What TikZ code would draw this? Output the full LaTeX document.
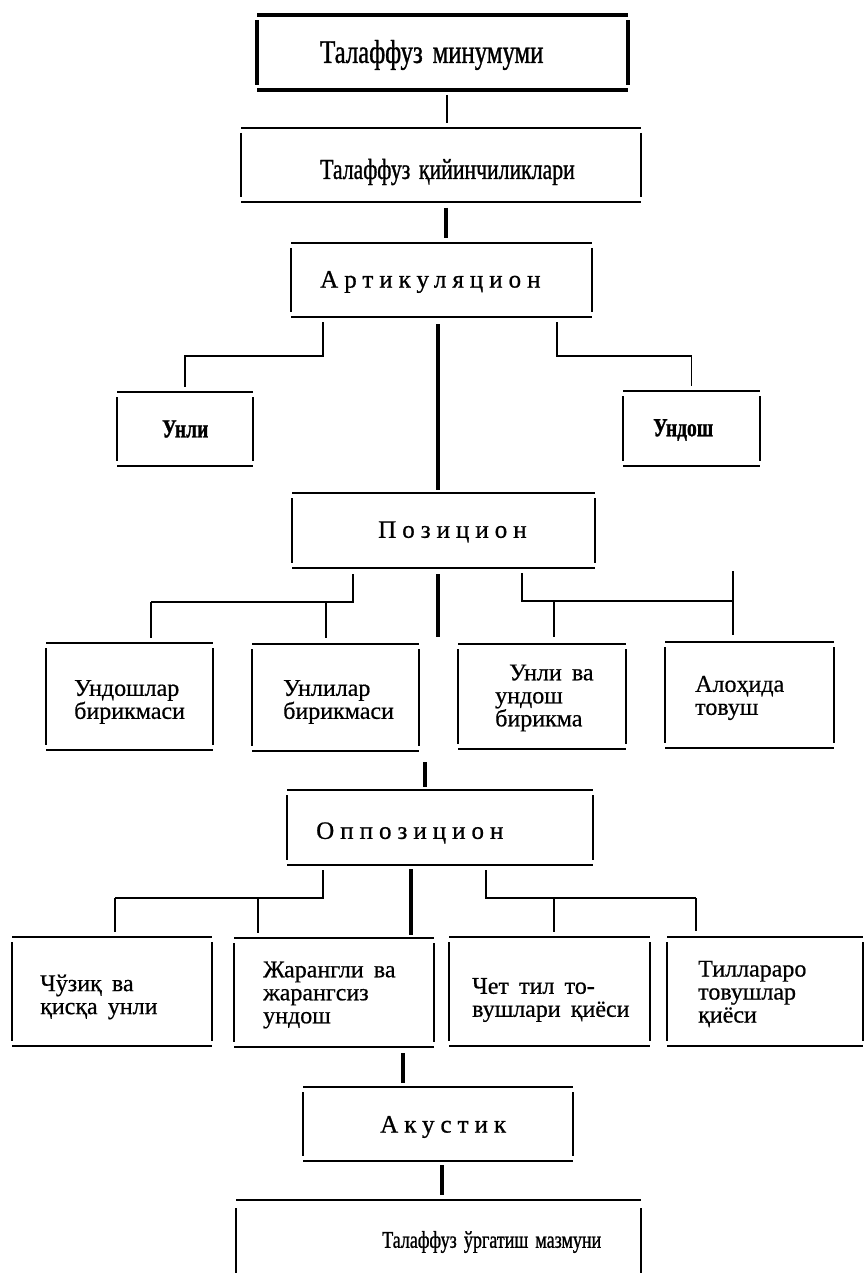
\documentclass[tikz,border=0pt]{standalone}
\usepackage{fontspec}
\setmainfont{Liberation Serif}[WordSpace=1.7, FakeBold=0.6]
\newfontfamily\spacedfont{Liberation Serif}[LetterSpace=24, FakeBold=0.8]
\newfontfamily\condfont{Liberation Serif}[FakeStretch=0.75, WordSpace=1.6, FakeBold=1]

% an empty frame node given its left, top, right and bottom edges
\newcommand{\mkbox}[5]{%
  \node[box, minimum width={(#4-#2)*1pt}, minimum height={(#5-#3)*1pt}]
    (#1) at ({(#2+#4)/2},{(#3+#5)/2}) {};}

% the four sides of a frame, the side strokes stopping short of the corners
\newcommand{\boxsides}[2][]{%
  \draw[edge,#1] (#2.north west) -- (#2.north east);
  \draw[edge,#1] (#2.south west) -- (#2.south east);
  \draw[edge,#1] ([yshift=-5pt]#2.north west) -- ([yshift=5pt]#2.south west);
  \draw[edge,#1] ([yshift=-5pt]#2.north east) -- ([yshift=5pt]#2.south east);}

\begin{document}
\begin{tikzpicture}[x=1pt,y=-1pt,
  box/.style={rectangle, draw=none, inner sep=0pt, outer sep=0pt},
  edge/.style={line width=1.8pt},
  heavy/.style={line width=4.8pt},
  link/.style={line width=1.5pt},
  bold link/.style={line width=4.2pt},
  lbl/.style={anchor=west, inner sep=0pt, align=left,
    font=\fontsize{24}{23}\selectfont},
  heading/.style={anchor=west, inner sep=0pt,
    font=\fontsize{29}{29}\condfont},
  title/.style={anchor=west, inner sep=0pt,
    font=\fontsize{25}{25}\spacedfont},
  keyword/.style={anchor=west, inner sep=0pt,
    font=\fontsize{26}{26}\condfont\bfseries}]

\path[use as bounding box, fill=white] (0,0) rectangle (865,1273);

% frames
\mkbox{b1}{257}{15}{628}{90}
\mkbox{b2}{241}{128}{641}{202}
\mkbox{b3}{291}{243}{592}{317}
\mkbox{unli}{117}{392}{253}{466}
\mkbox{undosh}{623}{391}{760}{466}
\mkbox{pos}{292}{493}{595}{568}
\mkbox{undoshlar}{46}{643}{213}{750}
\mkbox{unlilar}{252}{644}{419}{751}
\mkbox{unliva}{458}{644}{626}{749}
\mkbox{alohida}{665}{642}{834}{748}
\mkbox{opp}{287}{790}{593}{865}
\mkbox{chuziq}{12}{937}{212}{1046}
\mkbox{jarangli}{234}{938}{434}{1047}
\mkbox{chet}{449}{937}{650}{1046}
\mkbox{tillararo}{667}{937}{863}{1046}
\mkbox{akustik}{303}{1087}{573}{1161}
\mkbox{mazmun}{236}{1200}{641}{1290}

\boxsides[heavy]{b1}
\boxsides{b2}
\boxsides{b3}
\boxsides{unli}
\boxsides{undosh}
\boxsides{pos}
\boxsides{undoshlar}
\boxsides{unlilar}
\boxsides{unliva}
\boxsides{alohida}
\boxsides{opp}
\boxsides{chuziq}
\boxsides{jarangli}
\boxsides{chet}
\boxsides{tillararo}
\boxsides{akustik}
% the last frame runs off the foot of the page
\draw[edge] (mazmun.north west) -- (mazmun.north east);
\draw[edge] ([yshift=-8pt]mazmun.north west) -- (mazmun.south west);
\draw[edge] ([yshift=-8pt]mazmun.north east) -- (mazmun.south east);

% texts
\node[heading, font=\fontsize{33}{33}\condfont] (t-b1) at (320,55) {Талаффуз минумуми};
\node[heading] (t-b2) at (320,172) {Талаффуз қийинчиликлари};
\node[title] (t-b3) at (320,282) {Артикуляцион};
\node[keyword] (t-unli) at (162,429) {Унли};
\node[keyword] (t-undosh) at (653,430) {Ундош};
\node[title] (t-pos) at (378,532) {Позицион};
\node[lbl] (t-undoshlar) at (74,702) {Ундошлар\\бирикмаси};
\node[lbl] (t-unlilar) at (283,702) {Унлилар\\бирикмаси};
\node[lbl] (t-unliva) at (495,698) {\hspace*{14pt}Унли ва\\ундош\\бирикма};
\node[lbl] (t-alohida) at (695,698) {Алоҳида\\товуш};
\node[title] (t-opp) at (316,833) {Оппозицион};
\node[lbl] (t-chuziq) at (40,997) {Чўзиқ ва\\қисқа унли};
\node[lbl] (t-jarangli) at (263,995) {Жарангли ва\\жарангсиз\\ундош};
\node[lbl] (t-chet) at (472,1000) {Чет тил то-\\вушлари қиёси};
\node[lbl] (t-tillararo) at (698,994) {Тиллараро\\товушлар\\қиёси};
\node[title] (t-akustik) at (380,1127) {Акустик};
\node[heading, font=\fontsize{24}{24}\condfont] (t-mazmun) at (382,1242) {Талаффуз ўргатиш мазмуни};

% trunk
\coordinate (c1) at (447,0);
\draw[link, shorten <=5pt, shorten >=5pt] (b1.south -| c1) -- (b2.north -| c1);
\coordinate (c2) at (446,0);
\draw[bold link, shorten <=6pt, shorten >=5pt] (b2.south -| c2) -- (b3.north -| c2);
\coordinate (c3) at (438,0);
\draw[bold link, shorten <=7pt, shorten >=3pt] (b3.south -| c3) -- (pos.north -| c3);
\coordinate (c4) at (425,0);
\draw[bold link, shorten <=11pt, shorten >=3pt] (unlilar.south -| c4) -- (opp.north -| c4);
\coordinate (c5) at (403,0);
\draw[bold link, shorten <=6pt, shorten >=4pt] (jarangli.south -| c5) -- (akustik.north -| c5);
\coordinate (c6) at (442,0);
\draw[bold link, shorten <=4pt, shorten >=5pt] (akustik.south -| c6) -- (mazmun.north -| c6);

% articulation branches
\coordinate (aL) at (323,356);
\draw[link, shorten <=5pt, shorten >=5pt] (aL |- b3.south) -- (aL) -| (unli.north);
\coordinate (aR) at (557,356);
\draw[link, shorten <=5pt, shorten >=5pt] (aR |- b3.south) -- (aR) -| (undosh.north);

% position branches
\coordinate (pL) at (353,602);
\coordinate (pL1) at (151,602);
\coordinate (pL2) at (326,602);
\draw[link, shorten <=6pt] (pL |- pos.south) -- (pL) -- (pL1);
\draw[link, shorten >=5pt] (pL1) -- (pL1 |- undoshlar.north);
\draw[link, shorten >=6pt] (pL2) -- (pL2 |- unlilar.north);
\coordinate (pR) at (522,601);
\coordinate (pR1) at (733,601);
\coordinate (pR2) at (554,601);
\draw[link, shorten <=5pt] (pR |- pos.south) -- (pR) -- (pR1);
\draw[link, shorten <=3pt, shorten >=7pt] (pR1 |- pos.south) -- (pR1 |- alohida.north);
\draw[link, shorten >=7pt] (pR2) -- (pR2 |- unliva.north);
\coordinate (pEnd) at (438,637);
\draw[bold link, shorten <=6pt] (pos.south -| pEnd) -- (pEnd);

% opposition branches
\coordinate (oL) at (323,898);
\coordinate (oL1) at (115,898);
\coordinate (oL2) at (258,898);
\draw[link, shorten <=5pt] (oL |- opp.south) -- (oL) -- (oL1);
\draw[link, shorten >=5pt] (oL1) -- (oL1 |- chuziq.north);
\draw[link, shorten >=5pt] (oL2) -- (oL2 |- jarangli.north);
\coordinate (oR) at (486,898);
\coordinate (oR1) at (696,898);
\coordinate (oR2) at (554,898);
\draw[link, shorten <=5pt] (oR |- opp.south) -- (oR) -- (oR1);
\draw[link, shorten >=6pt] (oR1) -- (oR1 |- tillararo.north);
\draw[link, shorten >=5pt] (oR2) -- (oR2 |- chet.north);
\coordinate (oEnd) at (411,935);
\draw[bold link, shorten <=4pt] (opp.south -| oEnd) -- (oEnd);

\end{tikzpicture}
\end{document}
